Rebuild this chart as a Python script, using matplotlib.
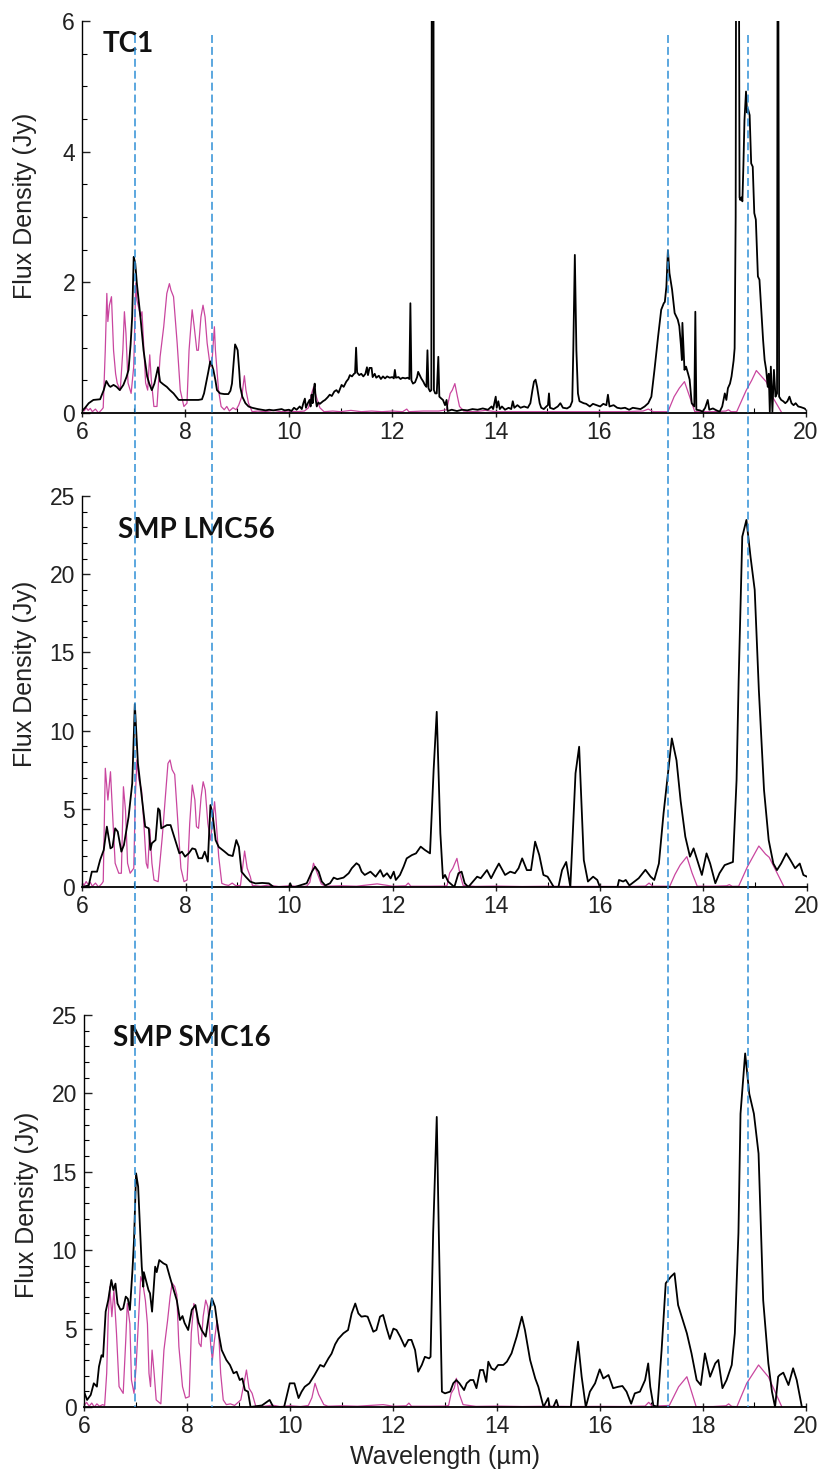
import numpy as np
import matplotlib
matplotlib.use("Agg")
import matplotlib.pyplot as plt
import matplotlib.transforms as mtransforms
from matplotlib.lines import Line2D
from matplotlib.ticker import MultipleLocator

plt.rcParams['font.family'] = ['Liberation Sans', 'DejaVu Sans']

# ---------------- data ----------------
# TC1 observed spectrum
tc1_obs_wl = [6.00, 6.06, 6.13, 6.22, 6.35, 6.42, 6.47, 6.52, 6.55, 6.61, 6.67, 6.73, 6.80, 6.86, 6.90,
              6.94, 6.97, 7.00, 7.03, 7.06, 7.10, 7.13, 7.19, 7.26, 7.30, 7.35, 7.40, 7.43, 7.47, 7.51,
              7.57, 7.64, 7.70, 7.77, 7.83, 7.87, 8.00, 8.13, 8.25, 8.32, 8.36, 8.40, 8.44, 8.48, 8.51,
              8.54, 8.58, 8.61, 8.67, 8.75, 8.83, 8.87, 8.90, 8.93, 8.96, 8.99, 9.01, 9.04, 9.06, 9.10,
              9.16, 9.22, 9.29, 9.40, 9.48, 9.55, 9.62, 9.70, 9.78, 9.86, 9.92, 10.00, 10.05, 10.10, 10.15,
              10.21, 10.25, 10.28, 10.31, 10.33, 10.36, 10.40, 10.42, 10.44, 10.46, 10.48, 10.50, 10.52, 10.54, 10.57,
              10.60, 10.66, 10.70, 10.75, 10.79, 10.83, 10.88, 10.92, 10.96, 11.02, 11.06, 11.11, 11.15, 11.18, 11.22,
              11.26, 11.28, 11.30, 11.32, 11.36, 11.40, 11.44, 11.48, 11.51, 11.53, 11.56, 11.60, 11.62, 11.66, 11.69,
              11.74, 11.78, 11.82, 11.86, 11.90, 11.95, 12.00, 12.03, 12.05, 12.07, 12.12, 12.16, 12.20, 12.25, 12.30,
              12.33, 12.35, 12.37, 12.40, 12.44, 12.48, 12.50, 12.53, 12.56, 12.60, 12.63, 12.66, 12.68, 12.70, 12.73,
              12.755, 12.765, 12.795, 12.805, 12.83, 12.86, 12.89, 12.91, 12.95, 12.98, 13.02, 13.05, 13.07, 13.15, 13.25,
              13.35, 13.45, 13.55, 13.65, 13.75, 13.85, 13.92, 13.95, 14.00, 14.02, 14.05, 14.08, 14.12, 14.18, 14.25,
              14.30, 14.33, 14.36, 14.42, 14.48, 14.55, 14.62, 14.67, 14.71, 14.74, 14.77, 14.80, 14.82, 14.85, 14.88,
              14.93, 14.98, 15.01, 15.03, 15.05, 15.12, 15.20, 15.25, 15.30, 15.38, 15.44, 15.48, 15.50, 15.53, 15.56,
              15.59, 15.62, 15.70, 15.75, 15.82, 15.88, 15.95, 16.02, 16.08, 16.14, 16.17, 16.20, 16.28, 16.35, 16.42,
              16.50, 16.58, 16.65, 16.72, 16.80, 16.88, 16.95, 17.01, 17.07, 17.14, 17.20, 17.25, 17.27, 17.30, 17.33,
              17.36, 17.41, 17.46, 17.52, 17.55, 17.58, 17.60, 17.61, 17.63, 17.65, 17.68, 17.72, 17.75, 17.79, 17.84,
              17.86, 17.88, 17.95, 18.00, 18.05, 18.10, 18.13, 18.20, 18.27, 18.33, 18.38, 18.43, 18.46, 18.49, 18.53,
              18.56, 18.60, 18.62, 18.64, 18.65, 18.70, 18.715, 18.73, 18.75, 18.77, 18.79, 18.81, 18.84, 18.86, 18.88,
              18.91, 18.94, 18.97, 19.00, 19.03, 19.07, 19.10, 19.14, 19.17, 19.20, 19.23, 19.26, 19.28, 19.30, 19.32,
              19.35, 19.38, 19.41, 19.44, 19.452, 19.462, 19.48, 19.52, 19.56, 19.60, 19.64, 19.68, 19.72, 19.76, 19.80,
              19.85, 19.90, 19.97, 20.00]
tc1_obs_fx = [0.03, 0.08, 0.15, 0.20, 0.21, 0.35, 0.49, 0.42, 0.40, 0.43, 0.40, 0.35, 0.43, 0.55, 0.66,
              1.05, 1.47, 2.39, 2.29, 1.99, 1.70, 1.47, 0.96, 0.56, 0.45, 0.35, 0.45, 0.56, 0.70, 0.48,
              0.44, 0.40, 0.35, 0.30, 0.24, 0.20, 0.20, 0.20, 0.20, 0.21, 0.30, 0.46, 0.62, 0.79, 0.74,
              0.66, 0.50, 0.35, 0.30, 0.29, 0.29, 0.34, 0.45, 0.75, 1.05, 1.00, 0.96, 0.65, 0.40, 0.25,
              0.15, 0.10, 0.08, 0.06, 0.05, 0.04, 0.05, 0.04, 0.05, 0.06, 0.04, 0.05, 0.03, 0.08, 0.05,
              0.10, 0.06, 0.15, 0.22, 0.08, 0.14, 0.20, 0.10, 0.28, 0.15, 0.35, 0.45, 0.20, 0.10, 0.16,
              0.14, 0.18, 0.20, 0.24, 0.28, 0.26, 0.33, 0.35, 0.31, 0.43, 0.40, 0.48, 0.52, 0.58, 0.56,
              0.60, 0.61, 1.00, 0.62, 0.58, 0.60, 0.56, 0.60, 0.70, 0.58, 0.69, 0.69, 0.55, 0.60, 0.54,
              0.57, 0.52, 0.56, 0.53, 0.56, 0.54, 0.55, 0.53, 0.66, 0.54, 0.55, 0.52, 0.54, 0.53, 0.54,
              0.52, 1.68, 0.50, 0.45, 0.47, 0.55, 0.63, 0.58, 0.53, 0.48, 0.43, 0.40, 0.96, 0.38, 0.33,
              0.35, 8.00, 8.00, 0.35, 0.30, 0.30, 0.86, 0.25, 0.22, 0.20, 0.12, 0.20, 0.03, 0.05, 0.03,
              0.05, 0.04, 0.06, 0.05, 0.07, 0.05, 0.10, 0.06, 0.25, 0.08, 0.18, 0.06, 0.10, 0.05, 0.08,
              0.06, 0.18, 0.08, 0.12, 0.08, 0.10, 0.08, 0.15, 0.35, 0.48, 0.51, 0.40, 0.30, 0.15, 0.08,
              0.06, 0.10, 0.12, 0.30, 0.08, 0.06, 0.10, 0.15, 0.08, 0.07, 0.10, 0.18, 0.96, 2.42, 0.96,
              0.30, 0.18, 0.15, 0.14, 0.10, 0.14, 0.12, 0.10, 0.14, 0.12, 0.28, 0.10, 0.12, 0.08, 0.07,
              0.08, 0.05, 0.08, 0.07, 0.06, 0.10, 0.15, 0.25, 0.66, 1.17, 1.58, 1.68, 1.70, 1.93, 2.49,
              2.14, 1.89, 1.53, 1.43, 1.33, 1.05, 0.81, 1.38, 1.00, 0.66, 0.71, 0.60, 0.51, 0.15, 0.10,
              1.55, 0.05, 0.04, 0.02, 0.08, 0.20, 0.05, 0.07, 0.04, 0.02, 0.10, 0.30, 0.20, 0.38, 0.45,
              0.56, 0.80, 0.99, 3.00, 8.00, 8.00, 3.30, 3.26, 3.30, 3.24, 3.80, 4.48, 4.92, 4.60, 4.65,
              4.56, 3.82, 3.77, 3.06, 2.96, 2.09, 2.04, 1.50, 1.12, 0.81, 0.66, 0.40, 0.60, 0.02, 0.71,
              0.02, 0.66, 0.25, 0.30, 8.00, 8.00, 0.25, 0.20, 0.18, 0.15, 0.18, 0.25, 0.15, 0.12, 0.15,
              0.10, 0.09, 0.07, 0.05]

# TC1 magenta (model) spectrum
tc1_mod_wl = [6.00, 6.04, 6.08, 6.12, 6.16, 6.20, 6.26, 6.32, 6.38, 6.41, 6.45, 6.48, 6.50, 6.53, 6.57,
              6.61, 6.65, 6.68, 6.74, 6.79, 6.82, 6.85, 6.89, 6.95, 7.00, 7.04, 7.06, 7.10, 7.13, 7.16,
              7.19, 7.23, 7.27, 7.31, 7.34, 7.39, 7.45, 7.51, 7.58, 7.64, 7.69, 7.72, 7.77, 7.84, 7.90,
              7.97, 8.03, 8.07, 8.13, 8.17, 8.22, 8.25, 8.30, 8.34, 8.38, 8.42, 8.48, 8.52, 8.56, 8.58,
              8.64, 8.69, 8.75, 8.80, 8.85, 8.92, 8.98, 9.03, 9.09, 9.14, 9.17, 9.22, 9.29, 9.40, 9.55,
              9.70, 9.85, 10.00, 10.15, 10.30, 10.38, 10.44, 10.48, 10.53, 10.60, 10.68, 10.85, 11.00, 11.20, 11.40,
              11.60, 11.80, 12.00, 12.20, 12.28, 12.32, 12.60, 12.90, 13.05, 13.12, 13.16, 13.21, 13.26, 13.30, 13.38,
              13.60, 13.80, 14.00, 14.50, 15.00, 15.50, 16.00, 16.50, 16.85, 16.95, 17.05, 17.33, 17.45, 17.55, 17.65,
              17.75, 17.85, 18.20, 18.45, 18.50, 18.55, 18.66, 18.75, 18.84, 18.95, 19.04, 19.15, 19.23, 19.35, 19.52]
tc1_mod_fx = [0.08, 0.03, 0.08, 0.04, 0.07, 0.02, 0.06, 0.00, 0.05, 0.08, 0.96, 1.83, 1.40, 1.65, 1.78,
              0.96, 0.60, 0.46, 0.35, 0.96, 1.55, 1.22, 0.46, 0.30, 0.71, 1.99, 1.73, 1.60, 1.47, 1.55,
              1.07, 0.46, 0.35, 0.89, 0.51, 0.10, 0.10, 0.86, 1.32, 1.83, 1.98, 1.88, 1.78, 1.07, 0.35,
              0.10, 0.15, 0.96, 1.58, 1.32, 0.96, 0.96, 1.47, 1.65, 1.47, 1.07, 0.71, 0.86, 1.32, 0.96,
              0.35, 0.10, 0.05, 0.10, 0.03, 0.08, 0.05, 0.12, 0.25, 0.57, 0.35, 0.15, 0.02, 0.03, 0.02,
              0.04, 0.02, 0.03, 0.02, 0.03, 0.08, 0.30, 0.40, 0.25, 0.08, 0.02, 0.03, 0.02, 0.04, 0.02,
              0.03, 0.02, 0.03, 0.02, 0.06, 0.02, 0.03, 0.03, 0.05, 0.30, 0.35, 0.45, 0.25, 0.10, 0.03,
              0.02, 0.04, 0.02, 0.02, 0.02, 0.02, 0.02, 0.02, 0.03, 0.06, 0.02, 0.02, 0.25, 0.38, 0.48,
              0.25, 0.02, 0.02, 0.03, 0.05, 0.02, 0.02, 0.18, 0.34, 0.50, 0.65, 0.55, 0.48, 0.25, 0.02]

# SMP LMC56 observed spectrum
lmc_obs_wl = [6.00, 6.13, 6.19, 6.29, 6.35, 6.42, 6.48, 6.55, 6.59, 6.64, 6.69, 6.76, 6.81, 6.90, 6.97,
              7.02, 7.08, 7.16, 7.22, 7.29, 7.32, 7.35, 7.42, 7.47, 7.50, 7.53, 7.64, 7.71, 7.80, 7.88,
              7.93, 7.99, 8.06, 8.13, 8.19, 8.25, 8.32, 8.37, 8.43, 8.48, 8.52, 8.58, 8.64, 8.74, 8.83,
              8.91, 8.98, 9.03, 9.08, 9.16, 9.25, 9.35, 9.48, 9.61, 9.70, 10.00, 10.02, 10.05, 10.11, 10.34,
              10.44, 10.50, 10.57, 10.63, 10.70, 10.79, 10.86, 10.93, 11.05, 11.15, 11.21, 11.30, 11.35, 11.40, 11.46,
              11.57, 11.67, 11.76, 11.82, 11.89, 11.96, 12.02, 12.06, 12.14, 12.21, 12.27, 12.37, 12.45, 12.54, 12.62,
              12.72, 12.79, 12.85, 12.92, 12.97, 13.01, 13.07, 13.19, 13.27, 13.33, 13.39, 13.46, 13.63, 13.70, 13.82,
              13.90, 13.98, 14.05, 14.17, 14.27, 14.36, 14.43, 14.50, 14.59, 14.67, 14.75, 14.83, 14.91, 14.99, 15.11,
              15.20, 15.27, 15.35, 15.43, 15.53, 15.60, 15.69, 15.77, 15.87, 15.95, 16.00, 16.34, 16.37, 16.45, 16.50,
              16.57, 16.75, 16.88, 16.98, 17.05, 17.14, 17.23, 17.33, 17.39, 17.48, 17.56, 17.65, 17.74, 17.81, 17.89,
              17.97, 18.06, 18.13, 18.23, 18.31, 18.41, 18.49, 18.57, 18.64, 18.68, 18.75, 18.83, 18.91, 18.99, 19.07,
              19.17, 19.26, 19.35, 19.42, 19.50, 19.60, 19.68, 19.77, 19.86, 19.93, 20.00]
lmc_obs_fx = [0.00, 0.10, 0.98, 0.98, 1.73, 2.37, 3.86, 2.47, 2.56, 3.75, 3.54, 2.26, 2.69, 4.49, 6.63,
              11.70, 7.90, 5.56, 3.86, 3.75, 2.37, 2.80, 3.00, 5.03, 4.90, 3.75, 3.96, 3.96, 3.00, 2.15,
              2.26, 1.94, 2.15, 2.47, 2.41, 1.84, 1.84, 2.26, 1.62, 5.24, 4.70, 3.00, 2.56, 2.30, 2.05,
              1.98, 3.00, 2.56, 0.98, 0.66, 0.34, 0.23, 0.26, 0.23, 0.00, 0.00, 0.24, 0.00, 0.00, 0.24,
              0.98, 1.30, 0.98, 0.35, 0.10, 0.24, 0.60, 0.50, 0.60, 0.88, 1.20, 1.52, 1.40, 0.98, 0.77,
              0.98, 0.66, 1.08, 0.66, 0.88, 0.55, 0.98, 0.45, 0.77, 1.30, 1.83, 2.04, 2.15, 2.58, 2.37,
              2.15, 7.48, 11.20, 3.43, 0.56, 0.77, 0.35, 0.00, 0.88, 0.98, 0.24, 0.00, 0.66, 0.56, 1.08,
              0.56, 1.08, 1.50, 0.77, 0.98, 0.88, 1.20, 1.83, 1.08, 1.08, 2.90, 2.04, 0.77, 0.66, 0.00,
              0.00, 1.08, 1.60, 0.00, 7.27, 8.97, 1.72, 0.35, 0.66, 0.45, 0.00, 0.00, 0.45, 0.35, 0.45,
              0.10, 0.56, 1.10, 0.66, 0.45, 1.50, 4.71, 7.69, 9.50, 8.10, 5.50, 3.22, 1.94, 2.47, 1.62,
              0.77, 2.15, 1.50, 0.24, 0.88, 1.40, 1.50, 1.60, 6.84, 13.20, 22.40, 23.47, 21.10, 19.00, 12.60,
              6.20, 3.00, 1.50, 1.08, 1.50, 2.15, 1.72, 1.20, 1.50, 0.77, 0.66]

# SMP LMC56 magenta (model) spectrum
lmc_mod_wl = [6.00, 6.04, 6.08, 6.12, 6.16, 6.20, 6.26, 6.32, 6.38, 6.41, 6.45, 6.50, 6.55, 6.60, 6.64,
              6.71, 6.76, 6.80, 6.84, 6.88, 6.93, 7.00, 7.03, 7.06, 7.10, 7.15, 7.19, 7.24, 7.27, 7.31,
              7.35, 7.39, 7.47, 7.55, 7.61, 7.66, 7.70, 7.74, 7.79, 7.86, 7.91, 7.97, 8.03, 8.08, 8.13,
              8.18, 8.21, 8.25, 8.30, 8.34, 8.38, 8.43, 8.48, 8.52, 8.56, 8.58, 8.64, 8.70, 8.76, 8.83,
              8.90, 8.97, 9.06, 9.10, 9.14, 9.19, 9.25, 9.29, 9.45, 9.60, 9.80, 10.00, 10.20, 10.34, 10.40,
              10.47, 10.53, 10.62, 10.70, 11.00, 11.30, 11.70, 12.00, 12.25, 12.30, 12.35, 12.70, 13.00, 13.05, 13.10,
              13.16, 13.24, 13.30, 13.36, 13.60, 14.00, 14.50, 15.00, 15.50, 16.00, 16.50, 16.88, 16.95, 17.02, 17.35,
              17.45, 17.55, 17.68, 17.78, 17.88, 18.20, 18.45, 18.50, 18.56, 18.68, 18.85, 19.07, 19.20, 19.27, 19.55]
lmc_mod_fx = [0.30, 0.10, 0.35, 0.15, 0.30, 0.05, 0.25, 0.00, 0.20, 0.35, 7.59, 5.56, 7.37, 4.07, 1.52,
              0.88, 0.88, 6.41, 4.90, 1.52, 0.88, 1.20, 5.77, 8.12, 6.84, 6.20, 4.28, 1.52, 1.20, 3.69,
              1.52, 0.45, 0.34, 3.20, 5.77, 7.90, 8.12, 7.50, 7.20, 3.69, 1.20, 0.34, 0.45, 4.07, 6.52,
              5.56, 3.86, 3.75, 5.77, 6.73, 6.20, 4.07, 3.00, 4.07, 5.45, 4.70, 1.94, 0.23, 0.15, 0.10,
              0.25, 0.08, 0.10, 1.20, 2.30, 1.20, 0.66, 0.10, 0.05, 0.12, 0.03, 0.08, 0.03, 0.05, 0.30,
              1.52, 1.00, 0.20, 0.05, 0.08, 0.05, 0.20, 0.05, 0.08, 0.25, 0.05, 0.05, 0.06, 0.10, 0.90,
              1.20, 1.83, 0.80, 0.10, 0.04, 0.06, 0.03, 0.05, 0.03, 0.04, 0.03, 0.06, 0.25, 0.05, 0.05,
              0.80, 1.40, 1.94, 0.90, 0.05, 0.05, 0.08, 0.15, 0.04, 0.05, 1.30, 2.62, 2.10, 1.90, 0.05]

# SMP SMC16 observed spectrum
smc_obs_wl = [6.00, 6.06, 6.13, 6.19, 6.25, 6.29, 6.34, 6.37, 6.42, 6.47, 6.53, 6.57, 6.61, 6.65, 6.71,
              6.76, 6.81, 6.85, 6.89, 6.94, 6.97, 7.01, 7.05, 7.12, 7.15, 7.16, 7.25, 7.28, 7.32, 7.38,
              7.41, 7.46, 7.54, 7.60, 7.66, 7.72, 7.80, 7.86, 7.91, 7.95, 8.02, 8.09, 8.16, 8.22, 8.28,
              8.36, 8.42, 8.48, 8.54, 8.60, 8.67, 8.76, 8.83, 8.90, 8.96, 9.02, 9.07, 9.12, 9.18, 9.23,
              9.45, 9.60, 9.67, 9.72, 9.88, 9.99, 10.08, 10.16, 10.22, 10.28, 10.37, 10.47, 10.58, 10.65, 10.74,
              10.80, 10.87, 10.93, 11.03, 11.12, 11.19, 11.26, 11.32, 11.38, 11.45, 11.50, 11.61, 11.67, 11.74, 11.80,
              11.87, 11.93, 12.00, 12.06, 12.13, 12.22, 12.29, 12.35, 12.42, 12.48, 12.55, 12.61, 12.69, 12.72, 12.77,
              12.84, 12.88, 12.94, 13.00, 13.10, 13.16, 13.22, 13.28, 13.37, 13.42, 13.49, 13.55, 13.61, 13.68, 13.74,
              13.80, 13.84, 13.90, 13.96, 14.03, 14.13, 14.20, 14.29, 14.39, 14.49, 14.55, 14.65, 14.75, 14.81, 14.91,
              15.00, 15.03, 15.10, 15.16, 15.20, 15.44, 15.52, 15.58, 15.65, 15.73, 15.81, 15.91, 16.00, 16.07, 16.17,
              16.26, 16.36, 16.44, 16.52, 16.61, 16.68, 16.78, 16.88, 16.94, 16.98, 17.04, 17.12, 17.20, 17.28, 17.38,
              17.45, 17.52, 17.61, 17.69, 17.78, 17.88, 17.96, 18.04, 18.14, 18.24, 18.30, 18.38, 18.46, 18.56, 18.62,
              18.69, 18.73, 18.82, 18.90, 18.99, 19.08, 19.17, 19.27, 19.34, 19.40, 19.46, 19.49, 19.56, 19.66, 19.75,
              19.82, 19.92, 20.00]
smc_obs_fx = [0.98, 0.45, 0.77, 1.51, 1.30, 2.57, 3.30, 3.20, 6.08, 6.82, 8.10, 7.46, 7.87, 6.60, 6.19,
              6.29, 7.04, 6.90, 6.19, 8.74, 10.65, 14.90, 14.05, 8.95, 7.67, 8.60, 7.46, 7.25, 6.08, 8.95,
              8.60, 9.37, 9.16, 9.06, 8.35, 7.67, 6.80, 5.55, 5.80, 5.36, 4.91, 6.19, 6.50, 5.40, 4.91,
              4.49, 5.80, 6.93, 6.40, 4.91, 3.63, 3.00, 2.68, 2.15, 2.25, 1.72, 1.82, 1.08, 0.98, 0.00,
              0.10, 0.45, 0.00, 0.00, 0.00, 1.51, 1.51, 0.57, 0.98, 1.29, 1.51, 2.04, 2.68, 2.57, 3.10,
              3.40, 4.00, 4.34, 4.70, 4.91, 5.97, 6.60, 5.97, 5.76, 5.80, 5.76, 4.80, 4.91, 5.76, 5.87,
              5.00, 4.34, 5.00, 4.91, 4.49, 3.85, 4.28, 4.28, 3.63, 2.25, 2.68, 3.20, 3.10, 3.20, 11.08,
              18.50, 11.08, 0.98, 0.87, 0.98, 1.51, 1.72, 1.51, 1.08, 1.51, 1.72, 1.72, 1.20, 2.36, 2.36,
              1.60, 2.89, 2.47, 2.36, 2.68, 2.68, 2.89, 3.42, 4.49, 5.76, 4.91, 3.00, 1.82, 1.29, 0.00,
              0.57, 0.00, 0.00, 0.45, 0.00, 0.00, 2.57, 4.17, 1.93, 0.00, 0.98, 1.51, 2.40, 1.82, 2.04,
              1.20, 1.29, 1.34, 0.98, 0.21, 0.87, 0.98, 1.72, 2.78, 1.29, 0.10, 0.00, 3.63, 7.89, 8.31,
              8.53, 6.50, 5.55, 4.70, 3.42, 1.72, 1.40, 3.42, 1.93, 2.78, 3.00, 1.20, 1.72, 2.68, 4.70,
              11.10, 18.70, 22.55, 19.98, 18.70, 16.16, 6.80, 2.78, 0.98, 0.00, 1.93, 2.04, 2.19, 1.40, 2.47,
              1.72, 0.00, 0.00]

# SMP SMC16 magenta (model) spectrum
smc_mod_wl = [6.00, 6.05, 6.10, 6.15, 6.20, 6.25, 6.30, 6.36, 6.40, 6.44, 6.47, 6.50, 6.54, 6.58, 6.63,
              6.68, 6.76, 6.81, 6.84, 6.89, 6.92, 6.97, 7.01, 7.07, 7.10, 7.14, 7.19, 7.23, 7.26, 7.29,
              7.32, 7.36, 7.40, 7.49, 7.55, 7.62, 7.67, 7.71, 7.76, 7.80, 7.84, 7.91, 7.97, 8.04, 8.08,
              8.13, 8.18, 8.23, 8.27, 8.31, 8.36, 8.40, 8.46, 8.49, 8.53, 8.58, 8.61, 8.65, 8.70, 8.76,
              8.84, 8.92, 9.04, 9.09, 9.15, 9.20, 9.26, 9.33, 9.50, 9.65, 9.80, 10.00, 10.20, 10.35, 10.42,
              10.48, 10.55, 10.65, 10.73, 11.00, 11.30, 11.80, 12.00, 12.25, 12.30, 12.35, 12.70, 13.00, 13.07, 13.12,
              13.18, 13.22, 13.28, 13.35, 13.60, 14.00, 14.50, 15.00, 15.50, 16.00, 16.50, 16.88, 16.95, 17.02, 17.35,
              17.53, 17.69, 17.87, 18.20, 18.45, 18.50, 18.56, 18.66, 18.85, 19.08, 19.24, 19.27, 19.53]
smc_mod_fx = [0.10, 0.30, 0.05, 0.25, 0.00, 0.20, 0.05, 0.15, 0.10, 2.15, 5.76, 7.67, 5.76, 7.46, 4.70,
              1.30, 0.87, 4.28, 6.60, 5.30, 1.72, 0.87, 2.57, 6.40, 8.31, 7.90, 6.80, 5.30, 2.15, 1.30,
              3.63, 2.15, 0.45, 0.20, 3.63, 5.50, 7.04, 7.90, 7.67, 7.15, 3.85, 1.30, 0.57, 0.66, 4.70,
              6.60, 6.10, 4.07, 3.85, 5.76, 6.82, 6.40, 3.85, 3.00, 4.28, 5.50, 4.90, 2.15, 0.45, 0.15,
              0.20, 0.10, 0.45, 1.30, 2.36, 1.20, 0.87, 0.05, 0.05, 0.12, 0.03, 0.08, 0.03, 0.10, 0.60,
              1.51, 0.80, 0.15, 0.05, 0.08, 0.05, 0.15, 0.05, 0.08, 0.25, 0.05, 0.05, 0.06, 0.10, 0.87,
              1.20, 1.83, 0.80, 0.15, 0.04, 0.06, 0.03, 0.05, 0.03, 0.04, 0.03, 0.06, 0.30, 0.05, 0.10,
              1.29, 1.93, 0.02, 0.03, 0.08, 0.20, 0.04, 0.02, 1.51, 2.68, 2.04, 1.93, 0.02]

panel_names = ['TC1', 'SMP LMC56', 'SMP SMC16']
panel_ymax = [6, 25, 25]
marker_lines = [7.02, 8.51, 17.34, 18.88]

# ---------------- figure ----------------
W, H = 823, 1475
fig = plt.figure(figsize=(W / 100, H / 100), dpi=100)

# axes boxes in pixels: left, top, right, bottom
boxes = [(82, 21, 806, 413), (82, 496, 807, 887), (84, 1015, 806, 1407)]
title_pos = [(0.029, 0.941), (0.050, 0.913), (0.040, 0.941)]
ylabel_y = [0.528, 0.545, 0.515]

series = [(tc1_obs_wl, tc1_obs_fx, tc1_mod_wl, tc1_mod_fx),
          (lmc_obs_wl, lmc_obs_fx, lmc_mod_wl, lmc_mod_fx),
          (smc_obs_wl, smc_obs_fx, smc_mod_wl, smc_mod_fx)]

black = '#000000'
magenta = '#c9469f'
dash_blue = '#2f8fd6'

axes = []
for i, (l, t, r, b) in enumerate(boxes):
    ax = fig.add_axes([l / W, 1 - b / H, (r - l) / W, (b - t) / H])
    axes.append(ax)
    owl, ofx, mwl, mfx = series[i]
    ax.plot(mwl, mfx, color=magenta, lw=0.9, zorder=2)
    ax.plot(owl, ofx, color=black, lw=1.3, zorder=3)

    ax.set_xlim(6, 20)
    ax.set_ylim(0, panel_ymax[i])
    ax.spines['top'].set_visible(False)
    ax.spines['right'].set_visible(False)
    ax.spines['left'].set_linewidth(1.0)
    ax.spines['bottom'].set_linewidth(1.3)

    ax.xaxis.set_major_locator(MultipleLocator(2))
    ax.xaxis.set_minor_locator(MultipleLocator(1))
    if panel_ymax[i] == 6:
        ax.yaxis.set_major_locator(MultipleLocator(2))
        ax.yaxis.set_minor_locator(MultipleLocator(0.5))
    else:
        ax.yaxis.set_major_locator(MultipleLocator(5))
        ax.yaxis.set_minor_locator(MultipleLocator(1))

    ax.tick_params(axis='x', which='major', direction='inout', length=6, width=1.0,
                   labelsize=16.5, pad=3)
    ax.tick_params(axis='x', which='minor', direction='in', length=3.5, width=0.8)
    ax.tick_params(axis='y', which='major', direction='in', length=6, width=1.0,
                   labelsize=16.5, pad=5)
    ax.tick_params(axis='y', which='minor', direction='in', length=3.5, width=0.8)
    ax.tick_params(colors='#222222')

    ax.set_ylabel('Flux Density (Jy)', fontsize=18, color='#222222')
    ax.yaxis.set_label_coords(-0.062, ylabel_y[i])

    ax.text(title_pos[i][0], title_pos[i][1], panel_names[i], transform=ax.transAxes,
            fontsize=20, fontweight='bold', family=['Lato', 'DejaVu Sans'],
            ha='left', va='center', color='#111111')

axes[2].set_xlabel('Wavelength (\u00b5m)', fontsize=18, color='#222222')
axes[2].xaxis.set_label_coords(0.5, -0.098)

# dashed marker lines running through all three panels
trans = mtransforms.blended_transform_factory(axes[0].transData, fig.transFigure)
for wl in marker_lines:
    fig.add_artist(Line2D([wl, wl], [1 - 35 / H, 1 - 1407 / H], transform=trans,
                          color=dash_blue, lw=1.1, linestyle=(0, (5.2, 2.6)), zorder=5))

fig.savefig('out.png', dpi=100)
